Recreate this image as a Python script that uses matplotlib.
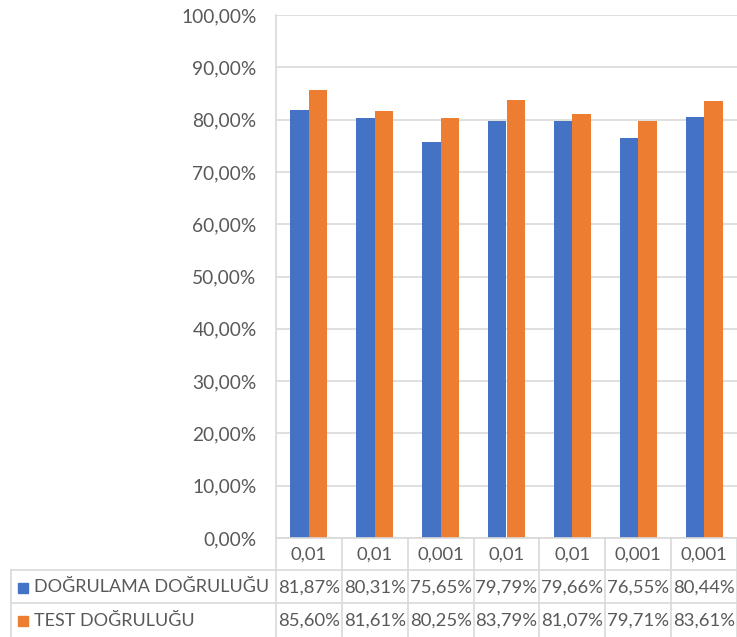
import matplotlib
matplotlib.use("Agg")
import matplotlib.pyplot as plt
from matplotlib.lines import Line2D
from matplotlib.patches import Rectangle
import numpy as np

# Learning rates per run and the two accuracy series
categories = ["0,01", "0,01", "0,001", "0,01", "0,01", "0,001", "0,001"]
val_acc = [81.87, 80.31, 75.65, 79.79, 79.66, 76.55, 80.44]
test_acc = [85.60, 81.61, 80.25, 83.79, 81.07, 79.71, 83.61]
series_names = ["DOĞRULAMA DOĞRULUĞU", "TEST DOĞRULUĞU"]
series_colors = ["#4472C4", "#ED7D31"]
y_ticks = [0, 10, 20, 30, 40, 50, 60, 70, 80, 90, 100]

W, H = 737, 637
TEXT = "#595959"
GRID = "#D9D9D9"
FONT = "Lato"
FS = 13.3

plt.rcParams["font.family"] = [FONT, "DejaVu Sans"]

fig = plt.figure(figsize=(W / 100, H / 100), dpi=100)


def fx(x):
    return x / W


def fy(y):
    return 1 - y / H


# Plot area in pixel coordinates
left, right, top, bottom = 276, 737, 15, 538
ax = fig.add_axes([fx(left), fy(bottom), fx(right - left), (bottom - top) / H])

n = len(categories)
x = np.arange(n)
bw = 0.28
ax.bar(x - bw / 2, val_acc, bw, color=series_colors[0], zorder=3)
ax.bar(x + bw / 2, test_acc, bw, color=series_colors[1], zorder=3)

ax.set_xlim(-0.5, n - 0.5)
ax.set_ylim(0, 100)
ax.set_yticks(y_ticks)
ax.set_yticklabels([f"{v:.2f}".replace(".", ",") + "%" for v in y_ticks],
                   fontsize=13.8, color=TEXT)
ax.tick_params(axis="y", length=0, pad=14)
ax.set_xticks([])
ax.yaxis.grid(True, color=GRID, linewidth=1.2, zorder=0)
for s in ["top", "right", "bottom"]:
    ax.spines[s].set_visible(False)
ax.spines["left"].set_color(GRID)
ax.spines["left"].set_linewidth(1.2)

# Data table below the plot
cat_w = (right - left) / n
row_lines = [bottom, 570, 603, 637]
tbl_left = 11


def hline(x0, x1, y):
    fig.add_artist(Line2D([fx(x0), fx(x1)], [fy(y), fy(y)], color=GRID,
                          linewidth=1.2, transform=fig.transFigure))


def vline(x, y0, y1):
    fig.add_artist(Line2D([fx(x), fx(x)], [fy(y0), fy(y1)], color=GRID,
                          linewidth=1.2, transform=fig.transFigure))


hline(left, right, bottom)
hline(tbl_left, right, row_lines[1])
hline(tbl_left, right, row_lines[2])
vline(tbl_left, row_lines[1], row_lines[3])
for i in range(n + 1):
    vline(left + i * cat_w, bottom, row_lines[3])

# Category labels
for i, c in enumerate(categories):
    cx = left + (i + 0.5) * cat_w
    fig.text(fx(cx), fy((row_lines[0] + row_lines[1]) / 2 + 1), c,
             ha="center", va="center", fontsize=FS, color=TEXT)

# Series rows with legend keys
for r, (name, col, vals) in enumerate(zip(series_names, series_colors,
                                           [val_acc, test_acc])):
    cy = (row_lines[r + 1] + row_lines[r + 2]) / 2 + 1
    fig.add_artist(Rectangle((fx(18), fy(cy + 5)), fx(10), 10 / H,
                             color=col, transform=fig.transFigure))
    fig.text(fx(34), fy(cy), name, ha="left", va="center",
             fontsize=13, color=TEXT)
    for i, v in enumerate(vals):
        cx = left + (i + 0.5) * cat_w
        fig.text(fx(cx), fy(cy), f"{v:.2f}".replace(".", ",") + "%",
                 ha="center", va="center", fontsize=FS, color=TEXT)

fig.savefig("out.png", dpi=100, facecolor="white")
